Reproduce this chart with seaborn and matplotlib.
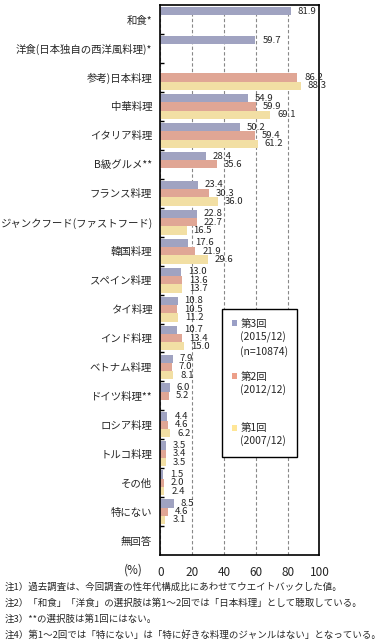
import matplotlib
matplotlib.use('Agg')
import matplotlib.pyplot as plt
import matplotlib.patches as mpatches
import numpy as np
import pandas as pd
import seaborn as sns

items = ['和食*', '洋食(日本独自の西洋風料理)*', '参考)日本料理', '中華料理', 'イタリア料理',
         'B級グルメ**', 'フランス料理', 'ジャンクフード(ファストフード)', '韓国料理', 'スペイン料理',
         'タイ料理', 'インド料理', 'ベトナム料理', 'ドイツ料理**', 'ロシア料理', 'トルコ料理',
         'その他', '特にない', '無回答']
wave3 = [81.9, 59.7, None, 54.9, 50.2, 28.4, 23.4, 22.8, 17.6, 13.0,
         10.8, 10.7, 7.9, 6.0, 4.4, 3.5, 1.5, 8.5, None]
wave2 = [None, None, 86.2, 59.9, 59.4, 35.6, 30.3, 22.7, 21.9, 13.6,
         10.5, 13.4, 7.0, 5.2, 4.6, 3.4, 2.0, 4.6, None]
wave1 = [None, None, 88.3, 69.1, 61.2, None, 36.0, 16.5, 29.6, 13.7,
         11.2, 15.0, 8.1, None, 6.2, 3.5, 2.4, 3.1, None]
waves = ['第3回', '第2回', '第1回']
wave_notes = [['(2015/12)', '(n=10874)'], ['(2012/12)'], ['(2007/12)']]
colors = ['#9A9FC6', '#EC9F89', '#FFE697']

notes = [
    '注1）過去調査は、今回調査の性年代構成比にあわせてウエイトバックした値。',
    '注2）「和食」「洋食」の選択肢は第1～2回では「日本料理」として聴取している。',
    '注3）**の選択肢は第1回にはない。',
    '注4）第1～2回では「特にない」は「特に好きな料理のジャンルはない」となっている。',
]

rows = []
for wave, vals in zip(waves, [wave3, wave2, wave1]):
    for item, v in zip(items, vals):
        if v is not None:
            rows.append({'item': item, 'wave': wave, 'value': v})
df = pd.DataFrame(rows)

sns.set_style('white')
plt.rcParams['font.family'] = ['Noto Sans CJK JP', 'DejaVu Sans']

fig = plt.figure(figsize=(3.83, 6.41), dpi=100)
ax = fig.add_axes([0.419, 0.134, 0.415, 0.858])
sns.barplot(data=df, x='value', y='item', hue='wave', order=items, hue_order=waves,
            palette=colors, width=0.86, orient='h', linewidth=0, errorbar=None,
            legend=False, ax=ax)

for cont in ax.containers:
    ax.bar_label(cont, fmt='%.1f', padding=5, fontsize=6.9)

ax.set_xlim(0, 100)
ax.set_xticks(range(0, 101, 20))
ax.set_xlabel('')
ax.set_ylabel('')
ax.xaxis.grid(True, linestyle=(0, (3, 2)), color='#888888', linewidth=0.8)
ax.set_axisbelow(True)
ax.tick_params(axis='x', length=0, pad=8, labelsize=8.5)
ax.tick_params(axis='y', which='major', length=0, pad=6, labelsize=7.5)
ax.set_yticks(np.arange(0.5, len(items) - 1, 1), minor=True)
ax.tick_params(axis='y', which='minor', left=True, direction='in', length=3, width=1, color='black')
for s in ax.spines.values():
    s.set_color('black')
    s.set_linewidth(1.2)

ax.text(-0.173, -0.027, '(%)', transform=ax.transAxes, ha='center', va='center', fontsize=8.5)

# legend built as rows so the extra date lines line up with the names
blank = mpatches.Patch(facecolor='none', edgecolor='none')
handles, labels = [], []
for i, (wave, extra) in enumerate(zip(waves, wave_notes)):
    handles.append(mpatches.Patch(facecolor=colors[i], edgecolor='none'))
    labels.append(wave)
    for e in extra:
        handles.append(blank)
        labels.append(e)
    if i == 0:
        handles.append(blank); labels.append('')
    elif i == 1:
        handles += [blank, blank]; labels += ['', '']
leg = ax.legend(handles, labels, loc='upper left', bbox_to_anchor=(0.387, 0.158, 0.471, 0.289),
                mode='expand', borderaxespad=0, fancybox=False, framealpha=1, edgecolor='black',
                fontsize=7.5, handlelength=0.5, handleheight=0.5, handletextpad=0.3,
                labelspacing=0.25, borderpad=0.95)
leg.get_frame().set_linewidth(1.0)

for k, line in enumerate(notes):
    fig.text(0.013, 1 - (587 + 16 * k) / 641, line, ha='left', va='center', fontsize=6.8)

fig.savefig('out.png', dpi=100)
